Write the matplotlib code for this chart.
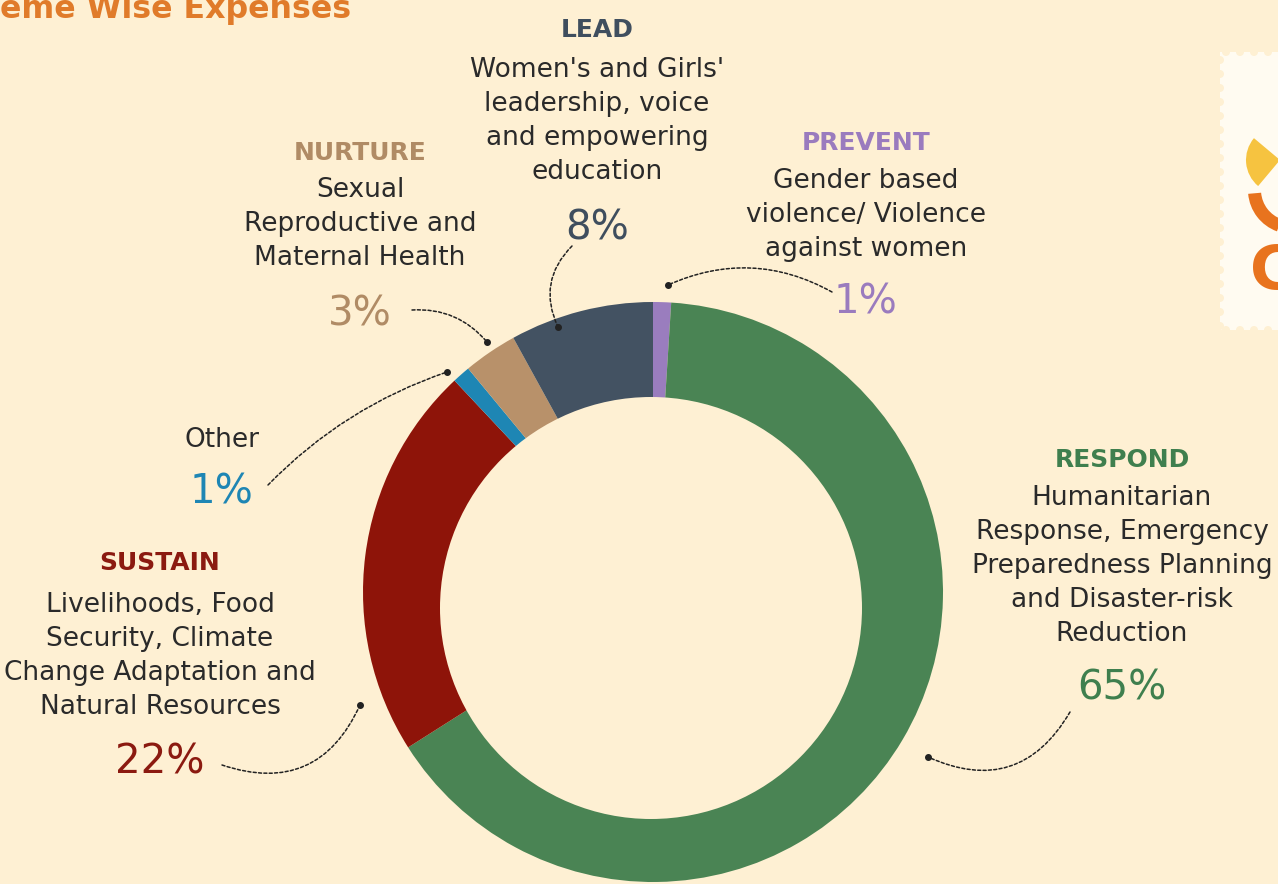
import matplotlib
matplotlib.use("Agg")
import matplotlib.pyplot as plt
from matplotlib.patches import Rectangle, Circle, Wedge

# ---- data ----
categories = ["PREVENT", "RESPOND", "SUSTAIN", "Other", "NURTURE", "LEAD"]
values = [1, 65, 22, 1, 3, 8]
colors = ["#9A7DBE", "#4A8454", "#8E1409", "#1E86B4", "#B8916A", "#435262"]
descriptions = {
    "LEAD": "Women's and Girls'\nleadership, voice\nand empowering\neducation",
    "NURTURE": "Sexual\nReproductive and\nMaternal Health",
    "PREVENT": "Gender based\nviolence/ Violence\nagainst women",
    "Other": "",
    "SUSTAIN": "Livelihoods, Food\nSecurity, Climate\nChange Adaptation and\nNatural Resources",
    "RESPOND": "Humanitarian\nResponse, Emergency\nPreparedness Planning\nand Disaster-risk\nReduction",
}
label_colors = {"LEAD": "#3F4E5E", "NURTURE": "#B08B65", "PREVENT": "#9A7BBE",
                "Other": "#1E86B4", "SUSTAIN": "#8B1A10", "RESPOND": "#3F7F4E"}
pct_labels = {c: f"{v}%" for c, v in zip(categories, values)}
title = "Theme Wise Expenses"
title_hidden = "Th"   # part of the title that lies beyond the left edge in the source

BG = "#FEF0D3"
W, H = 1278, 884
FONT = ['Liberation Sans Narrow', 'DejaVu Sans']

fig = plt.figure(figsize=(W / 100, H / 100), dpi=100)
fig.patch.set_facecolor(BG)
ax = fig.add_axes([0, 0, 1, 1])
ax.set_xlim(0, W)
ax.set_ylim(0, H)
ax.set_aspect('equal')
ax.axis('off')

def Y(py):
    return H - py

# donut
cx, cy, R = 653, 592, 290
ax.pie(values, colors=colors, startangle=90, counterclock=False,
       center=(cx, Y(cy)), radius=R, frame=True,
       wedgeprops=dict(linewidth=0))
ax.add_patch(Circle((651, Y(608)), 211, facecolor=BG, edgecolor='none', zorder=5))
ax.set_xlim(0, W)
ax.set_ylim(0, H)
ax.axis('off')

# title (cropped at top-left, as in the source image)
renderer = fig.canvas.get_renderer()
tkw = dict(fontweight='bold', family=['DejaVu Sans'])
probe = fig.text(0, 0, title[len(title_hidden):], fontsize=20, **tkw)
vis_w = probe.get_window_extent(renderer).width
probe.remove()
tsize = 20 * 352 / vis_w
probe = fig.text(0, 0, title_hidden, fontsize=tsize, **tkw)
hid_w = probe.get_window_extent(renderer).width
probe.remove()
fig.text(-hid_w / W, 1 - 18 / H, title, ha='left', va='baseline',
         fontsize=tsize, color='#E07B2A', **tkw)

# label blocks: x, heading y, description block centre y, percentage y
layout = {
    "LEAD": (597, 30, 121, 228),
    "NURTURE": (360, 153, 224, 315),
    "PREVENT": (866, 143, 215, 302),
    "Other": (222, 440, None, 493),
    "SUSTAIN": (160, 563, 656, 762),
    "RESPOND": (1122, 460, 566, 688),
}
TXT = '#2A2A2A'
for cat in categories:
    x, yh, yd, yp = layout[cat]
    col = label_colors[cat]
    if cat == "Other":
        ax.text(x, Y(yh), "Other", ha='center', va='center', fontsize=19,
                color=TXT, family=FONT)
    else:
        ax.text(x, Y(yh), cat, ha='center', va='center', fontsize=18,
                fontweight='bold', color=col, family=FONT)
        ax.text(x, Y(yd), descriptions[cat], ha='center', va='center', fontsize=19,
                color=TXT, family=FONT, linespacing=1.4)
    ax.text(x, Y(yp), pct_labels[cat], ha='center', va='center', fontsize=29,
            color=col, family=FONT)

# leader lines: (start at text, end at ring, curvature)
leaders = {
    "LEAD": ((572, 246), (558, 327), 0.35),
    "PREVENT": ((832, 292), (668, 285), 0.25),
    "NURTURE": ((412, 310), (487, 342), -0.25),
    "Other": ((268, 485), (447, 372), -0.12),
    "SUSTAIN": ((222, 765), (360, 705), 0.45),
    "RESPOND": ((1070, 712), (928, 757), -0.45),
}
for cat, (p0, p1, rad) in leaders.items():
    ax.annotate("", xy=(p1[0], Y(p1[1])), xytext=(p0[0], Y(p0[1])),
                arrowprops=dict(arrowstyle='-', color='#222222', lw=1.1,
                                linestyle=(0, (2, 1.5)),
                                connectionstyle=f"arc3,rad={rad}",
                                shrinkA=0, shrinkB=0))
    ax.plot(p1[0], Y(p1[1]), 'o', ms=4, color='#222222', mfc='#222222')

# decorative stamp at the right edge
ax.add_patch(Rectangle((1220, Y(330)), 80, 278, facecolor='#FFFBF1',
                       edgecolor='none', zorder=1))
for i in range(20):
    ax.add_patch(Circle((1220, Y(60 + i * 14)), 4, facecolor=BG, edgecolor='none', zorder=2))
for i in range(6):
    ax.add_patch(Circle((1226 + i * 14, Y(52)), 4, facecolor=BG, edgecolor='none', zorder=2))
    ax.add_patch(Circle((1226 + i * 14, Y(330)), 4, facecolor=BG, edgecolor='none', zorder=2))
ax.add_patch(Wedge((1280, Y(160)), 34, 140, 230, facecolor='#F6C340', edgecolor='none', zorder=2))
ax.add_patch(Wedge((1292, Y(190)), 44, 185, 250, width=13, facecolor='#E8731E',
                   edgecolor='none', zorder=2))
ax.text(1250, Y(272), "C", ha='left', va='center', fontsize=44, fontweight='bold',
        color='#E8731E', family=['DejaVu Sans'], zorder=3)

fig.savefig('out.png', dpi=100, facecolor=fig.get_facecolor())
